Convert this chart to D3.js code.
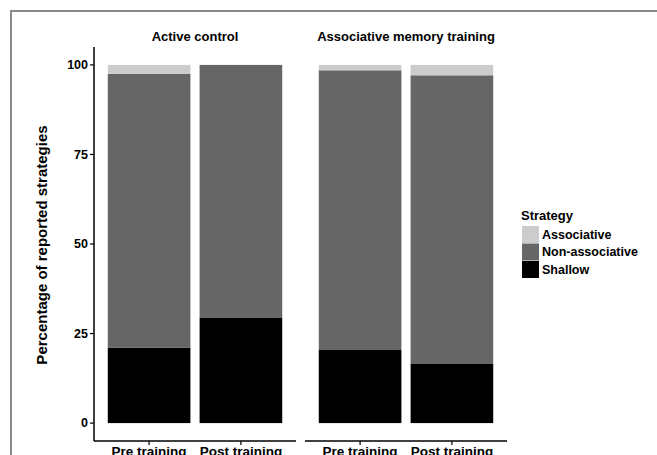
<!DOCTYPE html>
<style>
body { margin: 0; background: #fff; }
text { font-family: 'Liberation Sans', Arial, sans-serif; font-weight: bold; }
</style>
<svg width="657" height="455"></svg>
<script src="https://d3js.org/d3.v7.min.js"></script>
<script>

// data
const groups = ['Active control', 'Associative memory training'];
const times = ['Pre training', 'Post training'];
const strategies = ['Associative', 'Non-associative', 'Shallow'];
const shallow = [21.0, 29.5, 20.4, 16.5];
const associative = [2.5, 0, 1.5, 2.9];
const nonAssociative = [76.5, 70.5, 78.1, 80.6];
const yTicks = [0, 25, 50, 75, 100];

const colors = ['#cccccc', '#666666', '#000000'];

const svg = d3.select('svg');

// outer frame (left + top only)
svg.append('path')
	.attr('d', 'M11,455 V11 H657')
	.attr('fill', 'none')
	.attr('stroke', '#8a8a8a')
	.attr('stroke-width', 2);

const rows = [];
groups.forEach((g, gi) => {
	times.forEach((t, ti) => {
		const i = gi * 2 + ti;
		rows.push({group: g, time: t, 'Shallow': shallow[i], 'Non-associative': nonAssociative[i], 'Associative': associative[i]});
	});
});

// stack from bottom: Shallow, Non-associative, Associative
const stack = d3.stack().keys(['Shallow', 'Non-associative', 'Associative']);
const series = stack(rows);

const y = d3.scaleLinear().domain([-5, 105]).range([441, 47]);
const panelX = [94, 305];
const panelW = 202;

const color = d3.scaleOrdinal().domain(strategies).range(colors);

groups.forEach((g, gi) => {
	const x0 = panelX[gi];
	// ggplot-like discrete scale: 2 bars over 2.2 units, width 0.9
	const x = d3.scalePoint().domain(times).range([x0 + 0.6 * panelW / 2.2, x0 + 1.6 * panelW / 2.2]);
	const bw = 0.9 * panelW / 2.2;

	const panel = svg.append('g');
	series.forEach((s) => {
		panel.selectAll(null)
			.data(s.filter((d) => d.data.group === g))
			.enter().append('rect')
			.attr('x', (d) => x(d.data.time) - bw / 2)
			.attr('width', bw)
			.attr('y', (d) => y(d[1]))
			.attr('height', (d) => y(d[0]) - y(d[1]))
			.attr('fill', color(s.key));
	});

	// x axis
	panel.append('line')
		.attr('x1', x0).attr('x2', x0 + panelW)
		.attr('y1', 441).attr('y2', 441)
		.attr('stroke', '#000').attr('stroke-width', 1.5);
	times.forEach((t) => {
		panel.append('line')
			.attr('x1', x(t)).attr('x2', x(t))
			.attr('y1', 441).attr('y2', 445)
			.attr('stroke', '#000').attr('stroke-width', 1.2);
		panel.append('text')
			.attr('x', x(t)).attr('y', 456)
			.attr('text-anchor', 'middle')
			.attr('font-size', 13.5)
			.text(t);
	});

	// strip label
	panel.append('text')
		.attr('x', x0 + panelW / 2).attr('y', 41)
		.attr('text-anchor', 'middle')
		.attr('font-size', 13)
		.text(g);
});

// y axis
const yAxis = svg.append('g');
yAxis.append('line')
	.attr('x1', 94).attr('x2', 94)
	.attr('y1', 47).attr('y2', 441)
	.attr('stroke', '#000').attr('stroke-width', 1.5);
yTicks.forEach((v) => {
	yAxis.append('line')
		.attr('x1', 90).attr('x2', 94)
		.attr('y1', y(v)).attr('y2', y(v))
		.attr('stroke', '#000').attr('stroke-width', 1.2);
	yAxis.append('text')
		.attr('x', 88).attr('y', y(v))
		.attr('dy', '0.35em')
		.attr('text-anchor', 'end')
		.attr('font-size', 12.5)
		.text(v);
});
svg.append('text')
	.attr('transform', 'translate(47,245) rotate(-90)')
	.attr('text-anchor', 'middle')
	.attr('font-size', 15)
	.text('Percentage of reported strategies');

// legend
const legend = svg.append('g').attr('transform', 'translate(521,208)');
legend.append('text')
	.attr('x', 0).attr('y', 12)
	.attr('font-size', 13)
	.text('Strategy');
strategies.forEach((s, i) => {
	const row = legend.append('g').attr('transform', `translate(1,${18 + i * 17.5})`);
	row.append('rect')
		.attr('width', 17).attr('height', 17)
		.attr('fill', color(s));
	row.append('text')
		.attr('x', 20).attr('y', 8.5)
		.attr('dy', '0.35em')
		.attr('font-size', 12.5)
		.text(s);
});

</script>
